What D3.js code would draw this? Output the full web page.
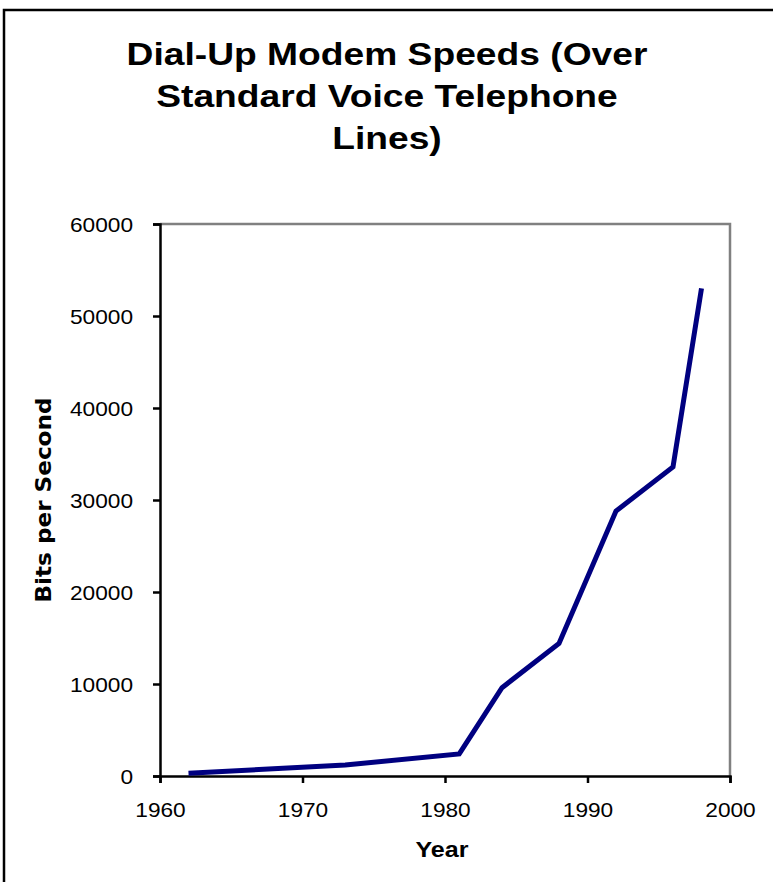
<!DOCTYPE html>
<html><head><meta charset="utf-8">
<script src="https://cdn.jsdelivr.net/npm/d3@7"></script>
<style>body{margin:0;background:#fff;}svg{display:block;}</style>
</head><body>
<script>
const years = [1962, 1973, 1981, 1984, 1988, 1992, 1996, 1998];
const speeds = [300, 1200, 2400, 9600, 14400, 28800, 33600, 53000];
const xTicks = [1960, 1970, 1980, 1990, 2000];
const yTicks = [0, 10000, 20000, 30000, 40000, 50000, 60000];
const titleLines = ["Dial-Up Modem Speeds (Over", "Standard Voice Telephone", "Lines)"];

const W = 773, H = 882;
const font = "'Liberation Sans', Arial, sans-serif";
const svg = d3.select("body").append("svg").attr("width", W).attr("height", H);
svg.append("rect").attr("x", 4).attr("y", 10).attr("width", W + 10).attr("height", H + 10)
  .attr("fill", "none").attr("stroke", "#000").attr("stroke-width", 2.5);

const L = 160, R = 730, T = 224, B = 776;
const x = d3.scaleLinear().domain([1960, 2000]).range([L, R]);
const y = d3.scaleLinear().domain([0, 60000]).range([B, T]);

// title
svg.append("g").selectAll("text").data(titleLines).join("text")
  .attr("transform", (d, i) => `translate(387,${65 + i * 42}) scale(1.24,1.03)`)
  .attr("text-anchor", "middle")
  .attr("font-family", font).attr("font-weight", "bold").attr("font-size", 30)
  .attr("fill", "#000").text(d => d);

// top & right frame (gray)
svg.append("path").attr("d", `M${L},${T}H${R}V${B}`).attr("fill", "none")
  .attr("stroke", "#808080").attr("stroke-width", 2.5);

const yAxis = svg.append("g").attr("transform", `translate(${L},0)`)
  .call(d3.axisLeft(y).tickValues(yTicks).tickFormat(d3.format("d")).tickSize(7).tickPadding(20));
const xAxis = svg.append("g").attr("transform", `translate(0,${B})`)
  .call(d3.axisBottom(x).tickValues(xTicks).tickFormat(d3.format("d")).tickSize(7).tickPadding(19));
[yAxis, xAxis].forEach(g => {
  g.select(".domain").attr("stroke", "#000").attr("stroke-width", 2.5);
  g.selectAll(".tick line").attr("stroke", "#000").attr("stroke-width", 2.5);
  g.selectAll(".tick text").attr("font-family", font).attr("font-size", 21).attr("fill", "#000")
    .each(function () {
      const len = this.getComputedTextLength();
      d3.select(this).attr("textLength", len * 1.08).attr("lengthAdjust", "spacingAndGlyphs");
    });
});
yAxis.selectAll(".tick text").attr("dy", "0.36em");

// line
const line = d3.line().x(d => x(d[0])).y(d => y(d[1]));
svg.append("path").datum(years.map((yr, i) => [yr, speeds[i]]))
  .attr("d", line).attr("fill", "none").attr("stroke", "#000080")
  .attr("stroke-width", 5).attr("stroke-linejoin", "miter");

// axis titles
svg.append("text").attr("x", 442).attr("y", 857).attr("text-anchor", "middle")
  .attr("font-family", font).attr("font-weight", "bold").attr("font-size", 22)
  .attr("textLength", 53).attr("lengthAdjust", "spacingAndGlyphs")
  .text("Year");
svg.append("text").attr("transform", "translate(51,500) rotate(-90)").attr("text-anchor", "middle")
  .attr("font-family", "'DejaVu Sans', sans-serif").attr("font-weight", "bold").attr("font-size", 22)
  .attr("textLength", 205).attr("lengthAdjust", "spacingAndGlyphs")
  .text("Bits per Second");
</script>
</body></html>
